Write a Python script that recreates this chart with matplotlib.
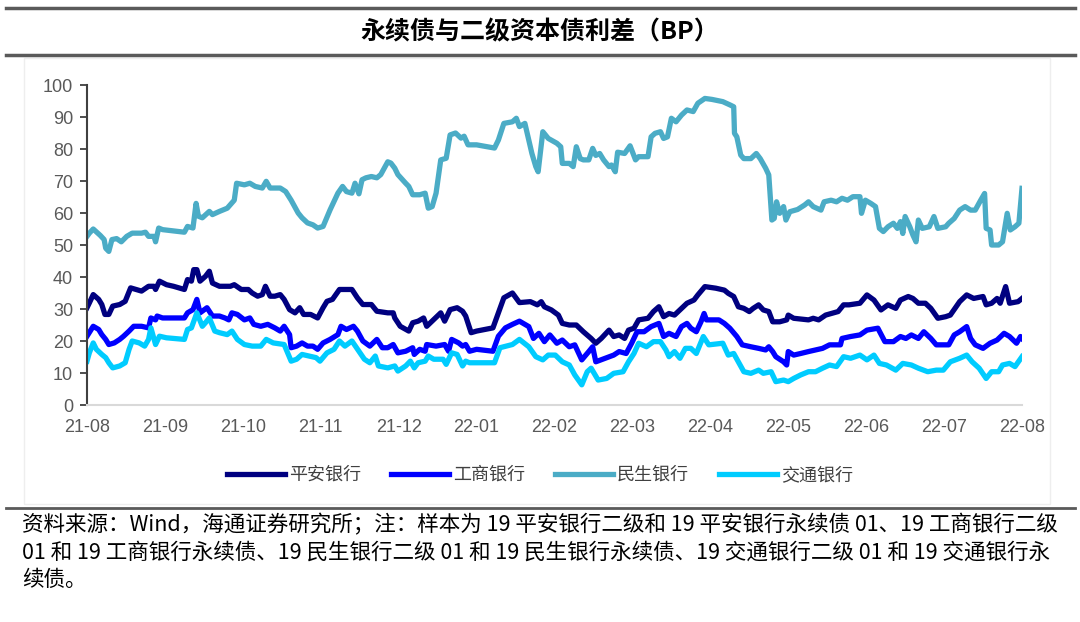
import matplotlib
matplotlib.use('Agg')
import matplotlib.pyplot as plt
from matplotlib.lines import Line2D
from matplotlib.patches import Rectangle

plt.rcParams['font.family'] = ['Noto Sans CJK SC', 'DejaVu Sans']

# ============================================================
# Data (months since 2021-08, spread in BP)
# ============================================================
month_labels = ['21-08', '21-09', '21-10', '21-11', '21-12', '22-01', '22-02',
                '22-03', '22-04', '22-05', '22-06', '22-07', '22-08']
series_names = ['平安银行', '工商银行', '民生银行', '交通银行']
colors = ['#000080', '#0000FF', '#4BACC6', '#00CCFF']

pa_t = [0.00, 0.03, 0.08, 0.15, 0.19, 0.23, 0.28, 0.33, 0.42, 0.49, 0.56, 0.63, 0.70, 0.79,
        0.86, 0.88, 0.93, 1.02, 1.11, 1.25, 1.29, 1.34, 1.37, 1.41, 1.45, 1.52, 1.57, 1.61,
        1.70, 1.84, 1.89, 1.98, 2.07, 2.12, 2.19, 2.25, 2.29, 2.35, 2.41, 2.48, 2.53, 2.60,
        2.67, 2.73, 2.78, 2.87, 2.96, 3.03, 3.08, 3.15, 3.24, 3.33, 3.40, 3.47, 3.54, 3.65,
        3.72, 3.86, 3.93, 3.95, 4.02, 4.13, 4.18, 4.25, 4.32, 4.36, 4.45, 4.54, 4.59, 4.66,
        4.75, 4.82, 4.86, 4.93, 5.00, 5.21, 5.28, 5.35, 5.46, 5.55, 5.69, 5.78, 5.83, 5.87,
        5.96, 6.05, 6.10, 6.19, 6.28, 6.37, 6.47, 6.53, 6.60, 6.70, 6.76, 6.83, 6.90, 6.95,
        7.02, 7.08, 7.20, 7.27, 7.34, 7.40, 7.47, 7.54, 7.61, 7.70, 7.79, 7.84, 7.93, 8.07,
        8.18, 8.23, 8.30, 8.36, 8.43, 8.50, 8.55, 8.62, 8.68, 8.75, 8.80, 8.89, 8.98, 9.00,
        9.07, 9.26, 9.32, 9.39, 9.48, 9.64, 9.71, 9.78, 9.92, 10.01, 10.10, 10.19, 10.28,
        10.38, 10.44, 10.54, 10.60, 10.67, 10.76, 10.83, 10.92, 11.02, 11.08, 11.20, 11.29,
        11.38, 11.50, 11.54, 11.61, 11.68, 11.72, 11.79, 11.84, 11.95, 12.00]
pa_v = [30.4, 31.9, 34.5, 33.0, 31.4, 28.3, 28.3, 30.9, 31.4, 32.4, 36.6, 36.1, 35.6, 37.1,
        37.1, 36.1, 38.7, 37.6, 37.1, 36.1, 39.2, 38.7, 42.3, 42.3, 38.7, 40.2, 41.8, 38.1,
        37.1, 37.1, 37.6, 36.1, 36.1, 35.0, 34.0, 34.5, 37.1, 34.0, 34.0, 34.5, 33.0, 29.8,
        28.8, 30.4, 28.3, 28.3, 27.2, 30.4, 32.4, 33.0, 36.1, 36.1, 36.1, 33.5, 31.4, 31.4,
        29.3, 28.8, 28.8, 27.2, 24.6, 23.1, 25.7, 26.2, 27.2, 24.6, 26.7, 28.8, 26.2, 29.8,
        30.4, 29.3, 27.8, 22.6, 23.1, 24.1, 28.8, 33.5, 35.0, 32.0, 32.3, 31.3, 32.3, 30.7,
        29.7, 28.1, 25.5, 25.0, 25.0, 22.9, 20.8, 19.3, 20.8, 23.4, 21.4, 21.9, 20.8, 23.4,
        24.0, 26.6, 27.1, 29.2, 30.7, 27.6, 28.6, 28.1, 29.7, 31.8, 32.8, 34.4, 37.0, 36.5,
        35.9, 34.9, 33.9, 30.7, 30.2, 29.2, 30.2, 31.3, 29.7, 29.2, 26.0, 26.0, 26.6, 28.1,
        27.1, 26.6, 27.1, 26.6, 28.1, 29.2, 31.3, 31.3, 31.8, 34.4, 32.8, 29.7, 31.3,
        30.2, 32.8, 33.9, 33.3, 31.8, 31.8, 30.2, 27.1, 27.6, 28.1, 32.3, 34.4,
        33.3, 33.9, 31.3, 31.8, 33.3, 31.8, 37.0, 31.8, 32.3, 33.3]

gs_t = [0.00, 0.08, 0.15, 0.19, 0.24, 0.28, 0.35, 0.42, 0.47, 0.54, 0.60, 0.70, 0.79, 0.82,
        0.88, 0.90, 0.97, 1.25, 1.29, 1.36, 1.41, 1.45, 1.54, 1.61, 1.70, 1.77, 1.82, 1.86,
        1.93, 2.02, 2.09, 2.14, 2.23, 2.32, 2.41, 2.48, 2.53, 2.60, 2.62, 2.69, 2.76, 2.83,
        2.90, 2.96, 3.03, 3.12, 3.22, 3.26, 3.33, 3.42, 3.47, 3.54, 3.63, 3.72, 3.79, 3.86,
        3.93, 3.99, 4.09, 4.18, 4.20, 4.27, 4.34, 4.36, 4.48, 4.59, 4.64, 4.68, 4.77, 4.82,
        4.86, 4.91, 5.00, 5.21, 5.28, 5.37, 5.46, 5.55, 5.67, 5.73, 5.80, 5.87, 5.94, 6.03,
        6.10, 6.19, 6.26, 6.35, 6.44, 6.49, 6.53, 6.65, 6.76, 6.83, 6.92, 6.99, 7.06, 7.15,
        7.24, 7.34, 7.40, 7.47, 7.56, 7.63, 7.70, 7.75, 7.82, 7.88, 7.92, 7.95, 8.11, 8.18,
        8.25, 8.34, 8.41, 8.52, 8.62, 8.71, 8.75, 8.80, 8.84, 8.94, 8.98, 9.00, 9.07, 9.16,
        9.26, 9.35, 9.44, 9.53, 9.67, 9.69, 9.80, 9.92, 10.01, 10.15, 10.24, 10.35, 10.44,
        10.51, 10.58, 10.67, 10.74, 10.83, 10.90, 11.06, 11.13, 11.20, 11.29, 11.34, 11.40,
        11.50, 11.59, 11.68, 11.77, 11.84, 11.93, 11.98, 12.00]
gs_v = [21.5, 24.6, 23.6, 22.0, 20.5, 18.9, 19.4, 20.5, 21.5, 23.1, 24.6, 24.6, 24.1, 27.2,
        26.6, 27.8, 27.2, 27.2, 28.8, 29.8, 33.0, 28.8, 30.4, 27.8, 27.8, 27.2, 26.6, 28.8,
        28.3, 26.6, 27.2, 25.2, 24.6, 25.2, 24.1, 23.1, 24.6, 22.0, 17.9, 18.4, 19.4, 18.4,
        18.4, 17.4, 19.4, 20.5, 22.0, 24.6, 23.6, 24.6, 23.1, 20.0, 18.4, 20.5, 17.9, 17.9,
        18.9, 16.3, 16.8, 17.9, 15.8, 17.4, 16.8, 18.9, 18.4, 18.9, 16.8, 20.5, 19.4, 18.4,
        18.9, 16.8, 17.4, 16.8, 21.5, 24.1, 25.2, 26.2, 24.5, 20.8, 22.4, 19.8, 21.9, 19.3,
        20.3, 18.2, 18.8, 14.1, 16.7, 18.2, 13.5, 14.6, 15.6, 16.7, 16.1, 19.3, 22.9, 22.9,
        24.5, 25.5, 21.4, 22.4, 21.4, 24.5, 25.5, 24.0, 22.9, 26.0, 28.6, 26.6, 26.6, 25.5,
        24.0, 21.4, 18.8, 18.2, 17.7, 17.2, 18.2, 16.7, 15.1, 13.5, 12.5, 16.7, 15.6, 16.1,
        16.7, 17.2, 17.7, 18.8, 18.8, 20.8, 21.4, 21.9, 23.4, 24.0, 19.8, 19.8, 21.4,
        20.8, 21.9, 20.8, 22.9, 20.8, 18.8, 18.8, 21.9, 22.9, 24.5, 20.8, 18.8,
        17.7, 19.3, 20.3, 22.4, 21.4, 19.3, 21.4, 20.8]

ms_t = [0.00, 0.03, 0.08, 0.17, 0.22, 0.24, 0.28, 0.32, 0.38, 0.44, 0.51, 0.58, 0.70, 0.75,
        0.79, 0.86, 0.88, 0.92, 0.97, 1.25, 1.29, 1.36, 1.40, 1.43, 1.48, 1.57, 1.61, 1.70,
        1.80, 1.89, 1.92, 2.02, 2.09, 2.16, 2.25, 2.30, 2.35, 2.48, 2.55, 2.62, 2.71, 2.76,
        2.83, 2.90, 2.96, 3.03, 3.12, 3.22, 3.28, 3.33, 3.40, 3.44, 3.49, 3.53, 3.58, 3.65,
        3.72, 3.77, 3.86, 3.90, 3.95, 3.99, 4.09, 4.13, 4.18, 4.27, 4.34, 4.38, 4.43, 4.48,
        4.54, 4.61, 4.66, 4.73, 4.80, 4.84, 4.89, 5.00, 5.23, 5.28, 5.35, 5.46, 5.51, 5.55,
        5.62, 5.71, 5.76, 5.79, 5.85, 5.92, 6.03, 6.08, 6.10, 6.19, 6.24, 6.28, 6.33, 6.37,
        6.44, 6.49, 6.53, 6.58, 6.63, 6.70, 6.73, 6.78, 6.81, 6.90, 6.97, 7.04, 7.08, 7.20,
        7.24, 7.29, 7.36, 7.40, 7.45, 7.50, 7.56, 7.63, 7.70, 7.78, 7.84, 7.93, 8.02, 8.16,
        8.25, 8.30, 8.31, 8.34, 8.39, 8.43, 8.52, 8.59, 8.64, 8.71, 8.75, 8.79, 8.82, 8.85,
        8.89, 8.94, 8.97, 9.02, 9.12, 9.21, 9.26, 9.32, 9.42, 9.46, 9.55, 9.62, 9.69, 9.76,
        9.83, 9.92, 9.94, 9.99, 10.06, 10.12, 10.17, 10.22, 10.28, 10.35, 10.40, 10.44,
        10.47, 10.50, 10.56, 10.60, 10.64, 10.67, 10.72, 10.81, 10.87, 10.92, 11.02, 11.06,
        11.13, 11.20, 11.27, 11.34, 11.40, 11.47, 11.52, 11.54, 11.59, 11.61, 11.70, 11.75,
        11.81, 11.85, 11.91, 11.96, 12.00]
ms_v = [52.7, 53.7, 55.0, 53.0, 51.7, 49.0, 48.0, 51.7, 52.0, 51.0, 52.7, 53.7, 53.7, 54.0,
        52.7, 52.7, 51.0, 55.3, 54.8, 54.0, 55.8, 55.3, 63.0, 59.0, 58.5, 60.5, 59.5, 60.5,
        61.5, 64.0, 69.3, 68.8, 69.3, 68.3, 67.8, 69.9, 67.8, 67.8, 66.7, 64.0, 60.0, 58.5,
        56.9, 56.3, 55.3, 55.8, 61.0, 66.2, 68.3, 66.7, 66.2, 69.3, 66.0, 70.4, 71.0, 71.4,
        71.0, 72.0, 76.0, 75.6, 74.0, 72.0, 69.3, 68.3, 65.7, 65.7, 66.2, 61.5, 62.0, 66.2,
        76.6, 77.1, 84.4, 85.0, 83.4, 84.0, 81.3, 81.3, 80.3, 82.8, 88.0, 88.5, 89.6, 87.0,
        88.0, 78.6, 74.5, 72.9, 85.4, 83.3, 81.8, 80.7, 75.5, 75.5, 74.5, 80.7, 77.0, 76.6,
        76.6, 80.2, 78.0, 78.6, 76.6, 74.5, 75.0, 72.9, 79.0, 78.6, 81.0, 76.6, 77.6, 77.6,
        83.8, 84.9, 85.4, 83.3, 83.8, 89.6, 88.5, 90.6, 92.2, 91.7, 94.3, 95.8, 95.5, 94.8,
        93.8, 93.2, 84.9, 83.8, 78.1, 77.0, 77.0, 78.6, 77.0, 74.0, 71.9, 57.8, 58.3, 63.5,
        59.9, 62.0, 57.8, 60.4, 61.1, 62.5, 63.5, 62.0, 60.9, 63.5, 64.0, 63.5, 64.6, 64.0,
        65.1, 65.1, 59.9, 64.0, 63.0, 62.0, 55.2, 54.2, 55.7, 56.8, 55.2, 57.3,
        53.6, 58.9, 55.7, 53.1, 51.0, 57.8, 55.2, 55.7, 58.9, 55.2, 55.7, 56.8,
        58.3, 60.9, 62.0, 60.9, 60.9, 64.0, 66.1, 55.2, 54.7, 50.0, 50.0, 51.0,
        59.9, 54.7, 55.7, 56.8, 67.7]

jt_t = [0.00, 0.03, 0.08, 0.12, 0.19, 0.24, 0.28, 0.33, 0.42, 0.49, 0.54, 0.58, 0.67, 0.74,
        0.79, 0.82, 0.88, 0.93, 1.02, 1.25, 1.29, 1.34, 1.41, 1.48, 1.52, 1.57, 1.64, 1.70,
        1.80, 1.86, 1.93, 2.02, 2.12, 2.23, 2.30, 2.39, 2.53, 2.60, 2.62, 2.69, 2.76, 2.85,
        2.94, 2.99, 3.08, 3.17, 3.24, 3.31, 3.40, 3.49, 3.56, 3.63, 3.70, 3.74, 3.86, 3.95,
        3.99, 4.09, 4.15, 4.20, 4.25, 4.34, 4.38, 4.45, 4.57, 4.61, 4.68, 4.75, 4.82, 4.86,
        4.91, 5.23, 5.30, 5.46, 5.55, 5.67, 5.76, 5.85, 5.92, 6.01, 6.10, 6.19, 6.26, 6.35,
        6.42, 6.47, 6.56, 6.67, 6.76, 6.88, 6.95, 7.02, 7.08, 7.18, 7.27, 7.36, 7.43, 7.47,
        7.54, 7.61, 7.68, 7.75, 7.82, 7.91, 7.98, 8.16, 8.23, 8.30, 8.36, 8.43, 8.52, 8.62,
        8.68, 8.78, 8.84, 8.94, 9.00, 9.07, 9.16, 9.26, 9.35, 9.44, 9.53, 9.62, 9.71, 9.80,
        9.92, 10.01, 10.10, 10.17, 10.26, 10.38, 10.47, 10.58, 10.67, 10.79, 10.90, 10.99,
        11.08, 11.20, 11.29, 11.36, 11.45, 11.54, 11.61, 11.70, 11.75, 11.84, 11.91, 12.00]
jt_v = [13.7, 16.3, 19.4, 17.4, 15.8, 14.8, 13.2, 11.6, 12.2, 13.2, 17.4, 20.0, 19.4, 18.4,
        20.5, 24.1, 18.9, 21.5, 21.0, 20.5, 23.6, 24.1, 28.8, 24.6, 25.7, 27.2, 23.1, 22.6,
        22.0, 23.1, 20.5, 18.9, 18.4, 18.4, 20.5, 19.4, 18.9, 14.8, 13.7, 14.3, 15.8, 15.3,
        14.8, 13.7, 16.3, 17.4, 20.0, 18.4, 20.0, 16.8, 14.3, 13.2, 15.3, 12.2, 11.6, 12.2,
        10.6, 12.2, 13.7, 11.6, 13.2, 13.7, 15.3, 14.3, 14.3, 12.7, 16.3, 15.8, 12.2, 13.7,
        13.2, 13.2, 17.9, 18.9, 20.5, 18.2, 15.1, 14.1, 15.6, 15.6, 13.5, 12.5, 9.4, 6.3,
        10.4, 11.5, 7.8, 8.3, 9.9, 10.4, 13.5, 16.1, 19.3, 18.2, 19.8, 19.8, 17.2, 15.1,
        16.7, 14.6, 17.7, 17.7, 16.1, 21.4, 18.8, 19.3, 15.6, 16.1, 13.5, 10.4, 9.9, 10.9,
        9.9, 10.4, 7.3, 7.8, 7.3, 8.3, 9.4, 10.4, 10.4, 11.5, 12.5, 12.0, 15.1, 14.6,
        15.6, 14.1, 15.6, 13.0, 12.5, 10.9, 13.0, 12.5, 11.5, 10.4, 10.9, 10.9,
        13.5, 14.6, 15.6, 13.5, 11.5, 8.3, 10.4, 10.4, 12.5, 13.0, 12.0, 15.1]

series_t = [pa_t, gs_t, ms_t, jt_t]
series_v = [pa_v, gs_v, ms_v, jt_v]

title = '永续债与二级资本债利差（BP）'
note_lines = [
    '资料来源：Wind，海通证券研究所；注：样本为 19 平安银行二级和 19 平安银行永续债 01、19 工商银行二级',
    '01 和 19 工商银行永续债、19 民生银行二级 01 和 19 民生银行永续债、19 交通银行二级 01 和 19 交通银行永',
    '续债。',
]

# ============================================================
# Figure
# ============================================================
W, H = 1080, 622
fig = plt.figure(figsize=(W / 100, H / 100), dpi=100)


def fx(px):
    return px / W


def fy(py):
    return 1 - py / H


# faint frame around chart area and horizontal rules
fig.add_artist(Rectangle((fx(24), fy(504)), fx(1050) - fx(24), fy(58) - fy(504),
                         transform=fig.transFigure, fill=False, ec='#EEEEEE', lw=1))
for y, lw in [(8, 2.5), (55, 2.5), (508, 2.0)]:
    fig.add_artist(Line2D([fx(6), fx(1075)], [fy(y), fy(y)], transform=fig.transFigure,
                          color='#5A5A5A', lw=lw))

fig.text(0.5, fy(32), title, ha='center', va='center', fontsize=18, fontweight='bold')

ax = fig.add_axes([fx(87), fy(405), fx(1022) - fx(87), fy(85) - fy(405)])
for name, c, t, v in zip(series_names, colors, series_t, series_v):
    ax.plot(t, v, color=c, lw=3.8, label=name, solid_joinstyle='round')

ax.set_xlim(0, 12)
ax.set_ylim(0, 100)
ax.set_yticks(range(0, 101, 10))
ax.set_xticks(range(len(month_labels)))
ax.set_xticklabels(month_labels)
for s in ['top', 'right']:
    ax.spines[s].set_visible(False)
ax.spines['left'].set_color('#404040')
ax.spines['left'].set_linewidth(1.5)
ax.spines['bottom'].set_color('#D9D9D9')
ax.spines['bottom'].set_linewidth(1.5)
ax.tick_params(axis='y', length=5, width=1.3, color='#404040', pad=5,
               labelsize=13, labelcolor='#595959')
ax.tick_params(axis='x', length=0, pad=10, labelsize=13, labelcolor='#595959')
for lab in ax.get_xticklabels() + ax.get_yticklabels():
    lab.set_fontfamily('Liberation Sans')

fig.legend(loc='center', bbox_to_anchor=(0.5, fy(475)), ncol=4, frameon=False,
           fontsize=13, handlelength=3.2, handletextpad=0.2, columnspacing=1.7,
           labelcolor='#404040')

for i, line in enumerate(note_lines):
    fig.text(fx(22), fy(525 + 27.5 * i), line, ha='left', va='center', fontsize=15.5)

fig.savefig('out.png', dpi=100)
